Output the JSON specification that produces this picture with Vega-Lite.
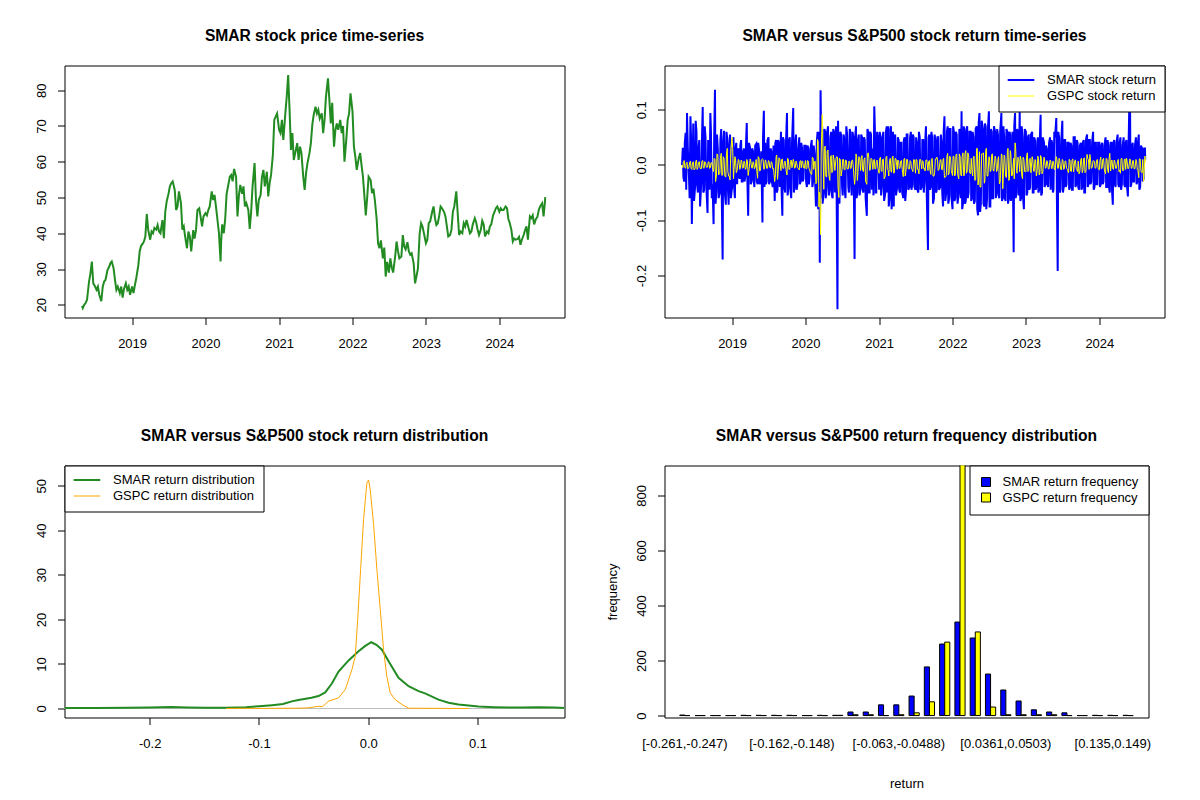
{
  "$schema": "https://vega.github.io/schema/vega-lite/v6.json",
  "background": "white",
  "padding": {"left": 34.5, "top": 27.5, "right": 5, "bottom": 5},
  "config": {
    "font": "Liberation Sans",
    "view": {"stroke": "black", "strokeWidth": 1},
    "axis": {
      "grid": false, "domain": false, "tickColor": "black", "tickSize": 7, "tickWidth": 1,
      "labelColor": "black", "labelFontSize": 13, "labelFont": "Liberation Sans", "labelFlush": false,
      "labelOverlap": false, "titleFont": "Liberation Sans", "titleFontWeight": "normal",
      "titleFontSize": 13, "titleColor": "black"
    },
    "axisX": {"labelPadding": 22.5, "labelBaseline": "alphabetic", "labelAngle": 0},
    "axisY": {"labelAngle": -90, "labelAlign": "center", "labelBaseline": "alphabetic", "labelPadding": 12},
    "title": {
      "font": "Liberation Sans", "fontSize": 15.6, "fontWeight": "bold", "color": "black",
      "anchor": "middle", "frame": "group", "baseline": "alphabetic", "offset": 20.5
    },
    "legend": {
      "labelFont": "Liberation Sans", "labelFontSize": 13, "labelColor": "black",
      "strokeColor": "black", "fillColor": "white"
    }
  },
  "datasets": {
    "ts": [
      {"d":"2018-04-27","p":19.7,"s":0,"g":0},
      {"d":"2018-05-01","p":19.1,"s":0.031,"g":-0.005},
      {"d":"2018-05-08","p":20.0,"s":-0.030,"g":0.008},
      {"d":"2018-05-15","p":20.5,"s":0.058,"g":-0.006},
      {"d":"2018-05-22","p":21.4,"s":0.094,"g":0.005},
      {"d":"2018-06-01","p":26.5,"s":-0.025,"g":-0.004},
      {"d":"2018-06-08","p":28.8,"s":0.088,"g":0.007},
      {"d":"2018-06-15","p":32.1,"s":-0.107,"g":-0.008},
      {"d":"2018-06-22","p":26.0,"s":0.075,"g":0.006},
      {"d":"2018-07-01","p":25.1,"s":-0.040,"g":-0.007},
      {"d":"2018-07-08","p":24.2,"s":0.060,"g":0.009},
      {"d":"2018-07-15","p":25.1,"s":-0.050,"g":-0.005},
      {"d":"2018-07-22","p":22.8,"s":0.045,"g":0.006},
      {"d":"2018-08-01","p":21.0,"s":-0.030,"g":-0.007},
      {"d":"2018-08-08","p":25.0,"s":0.105,"g":0.008},
      {"d":"2018-08-15","p":26.5,"s":-0.045,"g":-0.006},
      {"d":"2018-08-22","p":27.0,"s":0.050,"g":0.005},
      {"d":"2018-09-01","p":29.8,"s":-0.087,"g":-0.004},
      {"d":"2018-09-08","p":30.5,"s":0.040,"g":0.006},
      {"d":"2018-09-15","p":31.6,"s":0.094,"g":-0.005},
      {"d":"2018-09-22","p":32.1,"s":-0.060,"g":0.004},
      {"d":"2018-10-01","p":30.2,"s":-0.107,"g":-0.012},
      {"d":"2018-10-08","p":27.0,"s":0.136,"g":0.010},
      {"d":"2018-10-15","p":24.2,"s":-0.045,"g":-0.020},
      {"d":"2018-10-22","p":25.1,"s":0.030,"g":0.018},
      {"d":"2018-11-01","p":23.3,"s":-0.050,"g":-0.015},
      {"d":"2018-11-08","p":25.1,"s":0.065,"g":0.021},
      {"d":"2018-11-15","p":22.0,"s":-0.171,"g":-0.018},
      {"d":"2018-11-22","p":24.5,"s":0.062,"g":0.012},
      {"d":"2018-12-01","p":26.0,"s":-0.072,"g":-0.022},
      {"d":"2018-12-08","p":24.2,"s":0.048,"g":0.030},
      {"d":"2018-12-15","p":25.1,"s":-0.072,"g":-0.020},
      {"d":"2018-12-22","p":22.8,"s":0.055,"g":-0.027},
      {"d":"2019-01-01","p":25.1,"s":-0.040,"g":0.050},
      {"d":"2019-01-08","p":23.3,"s":0.050,"g":-0.025},
      {"d":"2019-01-15","p":25.5,"s":-0.060,"g":0.015},
      {"d":"2019-01-22","p":27.5,"s":0.040,"g":-0.014},
      {"d":"2019-02-01","p":31.0,"s":0.030,"g":0.010},
      {"d":"2019-02-08","p":35.0,"s":-0.025,"g":-0.008},
      {"d":"2019-02-15","p":36.5,"s":0.045,"g":0.009},
      {"d":"2019-02-22","p":37.0,"s":-0.030,"g":-0.006},
      {"d":"2019-03-01","p":37.7,"s":0.030,"g":0.007},
      {"d":"2019-03-08","p":39.1,"s":-0.020,"g":-0.008},
      {"d":"2019-03-15","p":45.4,"s":0.076,"g":0.010},
      {"d":"2019-03-22","p":41.0,"s":-0.092,"g":-0.019},
      {"d":"2019-04-01","p":38.2,"s":0.030,"g":0.011},
      {"d":"2019-04-08","p":40.5,"s":-0.030,"g":-0.005},
      {"d":"2019-04-15","p":40.0,"s":0.025,"g":0.006},
      {"d":"2019-04-22","p":41.5,"s":-0.040,"g":-0.007},
      {"d":"2019-05-01","p":41.0,"s":0.038,"g":0.010},
      {"d":"2019-05-08","p":42.3,"s":-0.035,"g":-0.024},
      {"d":"2019-05-15","p":40.5,"s":0.028,"g":0.012},
      {"d":"2019-05-22","p":40.0,"s":-0.030,"g":-0.010},
      {"d":"2019-06-01","p":43.7,"s":-0.104,"g":0.011},
      {"d":"2019-06-08","p":38.6,"s":0.098,"g":-0.008},
      {"d":"2019-06-15","p":46.0,"s":0.040,"g":0.009},
      {"d":"2019-06-22","p":48.9,"s":-0.030,"g":-0.006},
      {"d":"2019-07-01","p":51.0,"s":0.050,"g":0.008},
      {"d":"2019-07-08","p":53.1,"s":-0.030,"g":-0.005},
      {"d":"2019-07-15","p":54.0,"s":0.025,"g":0.006},
      {"d":"2019-07-22","p":54.5,"s":-0.040,"g":-0.007},
      {"d":"2019-08-01","p":52.1,"s":-0.065,"g":-0.030},
      {"d":"2019-08-08","p":46.5,"s":0.045,"g":0.015},
      {"d":"2019-08-15","p":47.5,"s":-0.045,"g":-0.026},
      {"d":"2019-08-22","p":51.7,"s":0.040,"g":0.013},
      {"d":"2019-09-01","p":48.4,"s":0.060,"g":-0.010},
      {"d":"2019-09-08","p":41.0,"s":-0.092,"g":0.011},
      {"d":"2019-09-15","p":41.9,"s":0.045,"g":-0.006},
      {"d":"2019-09-22","p":39.0,"s":-0.050,"g":0.007},
      {"d":"2019-10-01","p":35.8,"s":0.094,"g":-0.018},
      {"d":"2019-10-08","p":40.5,"s":-0.040,"g":0.010},
      {"d":"2019-10-15","p":39.1,"s":0.050,"g":-0.008},
      {"d":"2019-10-22","p":34.9,"s":-0.060,"g":0.009},
      {"d":"2019-11-01","p":40.9,"s":0.103,"g":0.010},
      {"d":"2019-11-08","p":38.5,"s":-0.040,"g":-0.006},
      {"d":"2019-11-15","p":41.0,"s":0.055,"g":0.007},
      {"d":"2019-11-22","p":46.5,"s":-0.035,"g":-0.005},
      {"d":"2019-12-01","p":47.0,"s":0.050,"g":-0.009},
      {"d":"2019-12-08","p":44.5,"s":-0.030,"g":0.008},
      {"d":"2019-12-15","p":41.9,"s":0.030,"g":0.007},
      {"d":"2019-12-22","p":44.7,"s":-0.025,"g":-0.005},
      {"d":"2020-01-01","p":45.6,"s":0.035,"g":0.008},
      {"d":"2020-01-08","p":45.0,"s":-0.040,"g":-0.006},
      {"d":"2020-01-15","p":46.5,"s":0.030,"g":0.007},
      {"d":"2020-01-22","p":47.5,"s":-0.020,"g":-0.009},
      {"d":"2020-02-01","p":51.7,"s":0.045,"g":-0.017},
      {"d":"2020-02-08","p":49.3,"s":-0.030,"g":0.012},
      {"d":"2020-02-15","p":50.7,"s":0.020,"g":0.006},
      {"d":"2020-02-22","p":47.5,"s":-0.075,"g":-0.034},
      {"d":"2020-03-01","p":43.5,"s":0.060,"g":0.046},
      {"d":"2020-03-08","p":40.0,"s":-0.050,"g":-0.076},
      {"d":"2020-03-12","p":36.0,"s":-0.177,"g":-0.050},
      {"d":"2020-03-16","p":32.1,"s":0.135,"g":-0.126},
      {"d":"2020-03-19","p":38.0,"s":-0.060,"g":0.020},
      {"d":"2020-03-24","p":42.5,"s":0.070,"g":0.091},
      {"d":"2020-04-01","p":40.0,"s":-0.050,"g":-0.044},
      {"d":"2020-04-08","p":44.0,"s":0.060,"g":0.034},
      {"d":"2020-04-15","p":51.0,"s":-0.040,"g":-0.022},
      {"d":"2020-04-22","p":53.1,"s":0.070,"g":0.027},
      {"d":"2020-05-01","p":55.8,"s":-0.045,"g":-0.028},
      {"d":"2020-05-08","p":56.3,"s":0.060,"g":0.017},
      {"d":"2020-05-15","p":54.5,"s":-0.060,"g":-0.012},
      {"d":"2020-05-22","p":58.0,"s":0.060,"g":0.010},
      {"d":"2020-06-01","p":55.8,"s":0.070,"g":0.012},
      {"d":"2020-06-08","p":44.7,"s":-0.261,"g":0.014},
      {"d":"2020-06-15","p":50.5,"s":-0.050,"g":-0.059},
      {"d":"2020-06-22","p":53.5,"s":0.060,"g":0.010},
      {"d":"2020-07-01","p":51.0,"s":-0.040,"g":-0.008},
      {"d":"2020-07-08","p":53.1,"s":0.055,"g":0.010},
      {"d":"2020-07-15","p":47.5,"s":-0.050,"g":-0.009},
      {"d":"2020-07-22","p":48.4,"s":0.070,"g":0.008},
      {"d":"2020-08-01","p":46.5,"s":-0.040,"g":-0.007},
      {"d":"2020-08-08","p":41.2,"s":0.065,"g":0.006},
      {"d":"2020-08-15","p":46.0,"s":-0.040,"g":-0.006},
      {"d":"2020-08-22","p":53.1,"s":0.060,"g":0.009},
      {"d":"2020-09-01","p":59.6,"s":-0.170,"g":-0.035},
      {"d":"2020-09-08","p":49.3,"s":0.070,"g":0.020},
      {"d":"2020-09-15","p":44.7,"s":-0.050,"g":-0.028},
      {"d":"2020-09-22","p":49.3,"s":0.055,"g":0.015},
      {"d":"2020-10-01","p":50.7,"s":-0.040,"g":-0.010},
      {"d":"2020-10-08","p":55.8,"s":0.050,"g":0.017},
      {"d":"2020-10-15","p":57.7,"s":-0.050,"g":-0.012},
      {"d":"2020-10-22","p":53.1,"s":0.045,"g":0.013},
      {"d":"2020-11-01","p":57.2,"s":-0.092,"g":-0.035},
      {"d":"2020-11-08","p":50.3,"s":0.060,"g":0.022},
      {"d":"2020-11-15","p":54.0,"s":-0.050,"g":-0.010},
      {"d":"2020-11-22","p":56.3,"s":0.055,"g":0.012},
      {"d":"2020-12-01","p":61.9,"s":0.030,"g":-0.008},
      {"d":"2020-12-08","p":71.7,"s":0.106,"g":0.010},
      {"d":"2020-12-15","p":72.6,"s":-0.050,"g":-0.007},
      {"d":"2020-12-22","p":73.5,"s":0.060,"g":0.009},
      {"d":"2021-01-01","p":68.9,"s":-0.045,"g":-0.015},
      {"d":"2021-01-08","p":68.0,"s":0.050,"g":0.014},
      {"d":"2021-01-15","p":71.7,"s":-0.040,"g":-0.012},
      {"d":"2021-01-22","p":66.1,"s":0.060,"g":0.011},
      {"d":"2021-02-01","p":73.5,"s":-0.050,"g":-0.020},
      {"d":"2021-02-08","p":78.2,"s":0.070,"g":0.016},
      {"d":"2021-02-15","p":84.2,"s":0.070,"g":-0.010},
      {"d":"2021-02-22","p":74.5,"s":-0.060,"g":0.008},
      {"d":"2021-03-01","p":63.3,"s":0.070,"g":-0.012},
      {"d":"2021-03-08","p":68.0,"s":-0.050,"g":0.014},
      {"d":"2021-03-15","p":60.5,"s":-0.075,"g":-0.015},
      {"d":"2021-03-22","p":62.4,"s":0.055,"g":0.012},
      {"d":"2021-04-01","p":65.2,"s":-0.040,"g":-0.008},
      {"d":"2021-04-08","p":60.5,"s":0.045,"g":0.007},
      {"d":"2021-04-15","p":64.2,"s":-0.050,"g":-0.006},
      {"d":"2021-04-22","p":62.4,"s":0.040,"g":0.008},
      {"d":"2021-05-01","p":55.8,"s":-0.060,"g":-0.021},
      {"d":"2021-05-08","p":52.1,"s":0.050,"g":0.012},
      {"d":"2021-05-15","p":56.8,"s":-0.045,"g":-0.009},
      {"d":"2021-05-22","p":59.6,"s":0.055,"g":0.010},
      {"d":"2021-06-01","p":62.4,"s":-0.040,"g":-0.007},
      {"d":"2021-06-08","p":65.2,"s":0.060,"g":0.006},
      {"d":"2021-06-15","p":70.3,"s":-0.035,"g":-0.008},
      {"d":"2021-06-22","p":73.1,"s":0.050,"g":0.010},
      {"d":"2021-07-01","p":75.4,"s":-0.045,"g":-0.015},
      {"d":"2021-07-08","p":73.5,"s":0.040,"g":0.009},
      {"d":"2021-07-15","p":74.5,"s":-0.050,"g":-0.008},
      {"d":"2021-07-22","p":72.1,"s":0.050,"g":0.010},
      {"d":"2021-08-01","p":73.5,"s":-0.040,"g":-0.007},
      {"d":"2021-08-08","p":68.0,"s":0.045,"g":0.006},
      {"d":"2021-08-15","p":71.7,"s":-0.030,"g":-0.006},
      {"d":"2021-08-22","p":78.2,"s":0.070,"g":0.009},
      {"d":"2021-09-01","p":83.3,"s":-0.154,"g":-0.010},
      {"d":"2021-09-08","p":77.3,"s":0.055,"g":0.008},
      {"d":"2021-09-15","p":70.7,"s":-0.040,"g":-0.017},
      {"d":"2021-09-22","p":76.5,"s":0.050,"g":0.012},
      {"d":"2021-10-01","p":64.2,"s":-0.060,"g":-0.020},
      {"d":"2021-10-08","p":68.9,"s":0.045,"g":0.011},
      {"d":"2021-10-15","p":70.7,"s":-0.045,"g":0.014},
      {"d":"2021-10-22","p":68.9,"s":0.050,"g":-0.010},
      {"d":"2021-11-01","p":71.7,"s":-0.040,"g":0.009},
      {"d":"2021-11-08","p":68.0,"s":0.040,"g":-0.008},
      {"d":"2021-11-15","p":70.0,"s":-0.075,"g":0.010},
      {"d":"2021-11-22","p":60.0,"s":0.088,"g":-0.023},
      {"d":"2021-12-01","p":66.1,"s":-0.050,"g":-0.019},
      {"d":"2021-12-08","p":71.7,"s":0.070,"g":0.021},
      {"d":"2021-12-15","p":73.5,"s":-0.060,"g":-0.015},
      {"d":"2021-12-22","p":79.1,"s":0.065,"g":0.014},
      {"d":"2022-01-01","p":74.0,"s":-0.080,"g":-0.019},
      {"d":"2022-01-08","p":64.2,"s":0.060,"g":0.015},
      {"d":"2022-01-15","p":61.4,"s":-0.060,"g":-0.018},
      {"d":"2022-01-22","p":57.7,"s":0.055,"g":0.020},
      {"d":"2022-02-01","p":61.0,"s":-0.050,"g":-0.025},
      {"d":"2022-02-08","p":62.4,"s":0.060,"g":0.015},
      {"d":"2022-02-15","p":59.0,"s":0.097,"g":-0.020},
      {"d":"2022-02-22","p":55.8,"s":-0.070,"g":0.022},
      {"d":"2022-03-01","p":50.5,"s":0.060,"g":-0.017},
      {"d":"2022-03-08","p":45.0,"s":-0.065,"g":0.026},
      {"d":"2022-03-15","p":50.0,"s":0.070,"g":-0.012},
      {"d":"2022-03-22","p":55.8,"s":-0.050,"g":0.018},
      {"d":"2022-04-01","p":54.9,"s":0.060,"g":-0.016},
      {"d":"2022-04-08","p":51.2,"s":-0.060,"g":-0.011},
      {"d":"2022-04-15","p":52.5,"s":0.050,"g":0.015},
      {"d":"2022-04-22","p":49.3,"s":-0.065,"g":-0.028},
      {"d":"2022-05-01","p":44.0,"s":0.070,"g":0.030},
      {"d":"2022-05-08","p":37.2,"s":-0.091,"g":-0.036},
      {"d":"2022-05-15","p":35.8,"s":0.094,"g":0.024},
      {"d":"2022-05-22","p":38.0,"s":-0.070,"g":-0.040},
      {"d":"2022-06-01","p":33.0,"s":0.065,"g":0.020},
      {"d":"2022-06-08","p":36.0,"s":-0.075,"g":-0.033},
      {"d":"2022-06-15","p":27.9,"s":0.070,"g":0.025},
      {"d":"2022-06-22","p":32.0,"s":-0.060,"g":-0.020},
      {"d":"2022-07-01","p":29.0,"s":0.097,"g":0.015},
      {"d":"2022-07-08","p":33.0,"s":-0.075,"g":-0.012},
      {"d":"2022-07-15","p":30.5,"s":0.060,"g":0.019},
      {"d":"2022-07-22","p":29.0,"s":-0.060,"g":-0.010},
      {"d":"2022-08-01","p":33.5,"s":0.060,"g":0.016},
      {"d":"2022-08-08","p":37.7,"s":-0.050,"g":-0.012},
      {"d":"2022-08-15","p":35.0,"s":0.055,"g":0.010},
      {"d":"2022-08-22","p":33.0,"s":-0.060,"g":-0.034},
      {"d":"2022-09-01","p":33.5,"s":0.094,"g":0.020},
      {"d":"2022-09-08","p":39.5,"s":-0.060,"g":-0.043},
      {"d":"2022-09-15","p":36.3,"s":0.050,"g":0.018},
      {"d":"2022-09-22","p":35.5,"s":-0.065,"g":-0.021},
      {"d":"2022-10-01","p":37.5,"s":0.060,"g":0.026},
      {"d":"2022-10-08","p":35.0,"s":-0.060,"g":-0.028},
      {"d":"2022-10-15","p":34.0,"s":0.055,"g":0.026},
      {"d":"2022-10-22","p":34.4,"s":-0.050,"g":-0.020},
      {"d":"2022-11-01","p":31.6,"s":-0.158,"g":0.012},
      {"d":"2022-11-08","p":26.0,"s":0.094,"g":0.040},
      {"d":"2022-11-15","p":28.0,"s":-0.050,"g":-0.010},
      {"d":"2022-11-22","p":30.0,"s":0.060,"g":0.014},
      {"d":"2022-12-01","p":40.0,"s":0.100,"g":-0.012},
      {"d":"2022-12-08","p":42.8,"s":-0.060,"g":0.010},
      {"d":"2022-12-15","p":41.9,"s":0.050,"g":-0.025},
      {"d":"2022-12-22","p":40.0,"s":-0.080,"g":0.010},
      {"d":"2023-01-01","p":37.2,"s":0.060,"g":-0.012},
      {"d":"2023-01-08","p":38.2,"s":-0.050,"g":0.022},
      {"d":"2023-01-15","p":42.8,"s":0.055,"g":-0.010},
      {"d":"2023-01-22","p":43.3,"s":-0.040,"g":0.012},
      {"d":"2023-02-01","p":46.0,"s":0.060,"g":0.015},
      {"d":"2023-02-08","p":47.5,"s":-0.050,"g":-0.011},
      {"d":"2023-02-15","p":44.2,"s":0.045,"g":0.010},
      {"d":"2023-02-22","p":42.3,"s":-0.040,"g":-0.020},
      {"d":"2023-03-01","p":42.8,"s":0.050,"g":0.016},
      {"d":"2023-03-08","p":44.9,"s":-0.045,"g":-0.018},
      {"d":"2023-03-15","p":47.5,"s":0.091,"g":0.017},
      {"d":"2023-03-22","p":47.0,"s":-0.050,"g":-0.016},
      {"d":"2023-04-01","p":46.0,"s":0.040,"g":0.014},
      {"d":"2023-04-08","p":44.7,"s":-0.035,"g":-0.006},
      {"d":"2023-04-15","p":42.0,"s":0.030,"g":0.008},
      {"d":"2023-04-22","p":39.1,"s":-0.040,"g":-0.007},
      {"d":"2023-05-01","p":39.5,"s":0.050,"g":0.009},
      {"d":"2023-05-08","p":41.0,"s":0.045,"g":-0.006},
      {"d":"2023-05-15","p":46.0,"s":-0.050,"g":0.007},
      {"d":"2023-05-22","p":47.5,"s":0.060,"g":-0.008},
      {"d":"2023-06-01","p":51.7,"s":0.085,"g":0.015},
      {"d":"2023-06-08","p":45.6,"s":-0.192,"g":-0.006},
      {"d":"2023-06-15","p":39.5,"s":0.050,"g":0.012},
      {"d":"2023-06-22","p":40.5,"s":-0.045,"g":-0.007},
      {"d":"2023-07-01","p":40.0,"s":0.080,"g":0.010},
      {"d":"2023-07-08","p":42.8,"s":-0.040,"g":-0.008},
      {"d":"2023-07-15","p":41.9,"s":0.045,"g":0.007},
      {"d":"2023-07-22","p":43.7,"s":-0.035,"g":-0.006},
      {"d":"2023-08-01","p":41.5,"s":0.040,"g":-0.014},
      {"d":"2023-08-08","p":40.0,"s":-0.040,"g":0.009},
      {"d":"2023-08-15","p":40.5,"s":0.035,"g":-0.012},
      {"d":"2023-08-22","p":42.5,"s":-0.045,"g":0.011},
      {"d":"2023-09-01","p":44.2,"s":0.050,"g":0.008},
      {"d":"2023-09-08","p":43.0,"s":-0.035,"g":-0.007},
      {"d":"2023-09-15","p":41.0,"s":0.040,"g":-0.012},
      {"d":"2023-09-22","p":39.5,"s":-0.045,"g":-0.016},
      {"d":"2023-10-01","p":41.0,"s":0.040,"g":0.010},
      {"d":"2023-10-08","p":43.5,"s":-0.040,"g":-0.014},
      {"d":"2023-10-15","p":42.5,"s":0.045,"g":0.011},
      {"d":"2023-10-22","p":39.1,"s":-0.050,"g":-0.014},
      {"d":"2023-11-01","p":40.5,"s":0.055,"g":0.019},
      {"d":"2023-11-08","p":40.0,"s":-0.035,"g":0.010},
      {"d":"2023-11-15","p":41.9,"s":0.045,"g":0.019},
      {"d":"2023-11-22","p":42.5,"s":-0.030,"g":-0.006},
      {"d":"2023-12-01","p":45.0,"s":0.060,"g":0.008},
      {"d":"2023-12-08","p":46.0,"s":-0.040,"g":0.006},
      {"d":"2023-12-15","p":47.0,"s":0.040,"g":-0.005},
      {"d":"2023-12-22","p":47.5,"s":-0.035,"g":0.010},
      {"d":"2024-01-01","p":46.0,"s":0.040,"g":-0.009},
      {"d":"2024-01-08","p":47.0,"s":-0.035,"g":0.014},
      {"d":"2024-01-15","p":46.5,"s":0.040,"g":-0.006},
      {"d":"2024-01-22","p":46.5,"s":-0.030,"g":0.012},
      {"d":"2024-02-01","p":47.5,"s":0.050,"g":-0.016},
      {"d":"2024-02-08","p":47.0,"s":-0.040,"g":0.010},
      {"d":"2024-02-15","p":44.0,"s":0.035,"g":-0.014},
      {"d":"2024-02-22","p":42.8,"s":-0.050,"g":0.021},
      {"d":"2024-03-01","p":40.9,"s":0.040,"g":0.008},
      {"d":"2024-03-08","p":37.7,"s":-0.072,"g":-0.007},
      {"d":"2024-03-15","p":38.5,"s":0.045,"g":0.009},
      {"d":"2024-03-22","p":38.2,"s":-0.040,"g":-0.006},
      {"d":"2024-04-01","p":38.4,"s":0.055,"g":0.007},
      {"d":"2024-04-08","p":39.0,"s":-0.040,"g":-0.012},
      {"d":"2024-04-15","p":36.8,"s":0.050,"g":-0.015},
      {"d":"2024-04-22","p":38.2,"s":-0.035,"g":0.012},
      {"d":"2024-05-01","p":39.5,"s":0.050,"g":-0.010},
      {"d":"2024-05-08","p":40.9,"s":-0.040,"g":0.011},
      {"d":"2024-05-15","p":41.9,"s":0.045,"g":0.012},
      {"d":"2024-05-22","p":38.2,"s":-0.057,"g":-0.007},
      {"d":"2024-06-01","p":44.7,"s":0.163,"g":0.011},
      {"d":"2024-06-08","p":44.2,"s":-0.035,"g":-0.006},
      {"d":"2024-06-15","p":45.0,"s":0.040,"g":0.008},
      {"d":"2024-06-22","p":42.5,"s":-0.030,"g":-0.007},
      {"d":"2024-07-01","p":44.0,"s":0.050,"g":0.010},
      {"d":"2024-07-08","p":44.5,"s":-0.030,"g":-0.009},
      {"d":"2024-07-15","p":46.5,"s":0.055,"g":-0.023},
      {"d":"2024-07-22","p":47.5,"s":-0.040,"g":0.011},
      {"d":"2024-08-01","p":48.4,"s":0.030,"g":-0.014},
      {"d":"2024-08-08","p":44.7,"s":-0.025,"g":-0.030},
      {"d":"2024-08-15","p":48.9,"s":0.030,"g":0.016},
      {"d":"2024-08-16","p":50.1,"s":0.010,"g":0.005},
      {"d":"2018-05-04","s":-0.022,"g":0.006},{"d":"2018-05-11","s":0.040,"g":-0.004},{"d":"2018-05-18","s":-0.045,"g":0.003},{"d":"2018-05-26","s":0.030,"g":-0.007},
      {"d":"2018-06-04","s":-0.060,"g":0.005},{"d":"2018-06-11","s":0.050,"g":-0.006},{"d":"2018-06-18","s":-0.030,"g":0.004},{"d":"2018-06-26","s":-0.065,"g":-0.009},
      {"d":"2018-07-04","s":0.080,"g":0.006},{"d":"2018-07-11","s":-0.035,"g":-0.008},{"d":"2018-07-18","s":0.030,"g":0.005},{"d":"2018-07-26","s":-0.075,"g":-0.006},
      {"d":"2018-08-04","s":0.040,"g":0.007},{"d":"2018-08-11","s":-0.050,"g":-0.005},{"d":"2018-08-18","s":0.070,"g":0.006},{"d":"2018-08-26","s":-0.040,"g":-0.004},
      {"d":"2018-09-04","s":0.045,"g":0.005},{"d":"2018-09-11","s":-0.045,"g":-0.006},{"d":"2018-09-18","s":0.060,"g":0.004},{"d":"2018-09-26","s":-0.035,"g":-0.005},
      {"d":"2018-10-04","s":0.050,"g":0.012},{"d":"2018-10-11","s":-0.070,"g":-0.030},{"d":"2018-10-18","s":0.055,"g":0.020},{"d":"2018-10-26","s":-0.060,"g":-0.018},
      {"d":"2018-11-04","s":0.045,"g":0.012},{"d":"2018-11-11","s":-0.065,"g":-0.019},{"d":"2018-11-18","s":0.040,"g":0.015},{"d":"2018-11-26","s":-0.050,"g":-0.020},
      {"d":"2018-12-04","s":0.060,"g":0.020},{"d":"2018-12-11","s":-0.040,"g":-0.012},{"d":"2018-12-18","s":0.035,"g":-0.020},{"d":"2018-12-26","s":-0.060,"g":0.030},
      {"d":"2019-01-04","s":0.045,"g":0.030},{"d":"2019-01-11","s":-0.040,"g":-0.008},{"d":"2019-01-18","s":0.030,"g":0.012},{"d":"2019-01-26","s":-0.035,"g":-0.010},
      {"d":"2019-02-04","s":-0.020,"g":0.008},{"d":"2019-02-11","s":0.035,"g":-0.006},{"d":"2019-02-18","s":-0.030,"g":0.007},{"d":"2019-02-26","s":0.025,"g":-0.005},
      {"d":"2019-03-04","s":-0.030,"g":0.006},{"d":"2019-03-11","s":0.035,"g":-0.007},{"d":"2019-03-18","s":-0.025,"g":0.008},{"d":"2019-03-26","s":0.040,"g":-0.009},
      {"d":"2019-04-04","s":-0.035,"g":0.007},{"d":"2019-04-11","s":0.030,"g":-0.006},{"d":"2019-04-18","s":-0.025,"g":0.005},{"d":"2019-04-26","s":0.035,"g":-0.004},
      {"d":"2019-05-04","s":-0.030,"g":-0.012},{"d":"2019-05-11","s":0.040,"g":0.015},{"d":"2019-05-18","s":-0.035,"g":-0.011},{"d":"2019-05-26","s":0.025,"g":0.009},
      {"d":"2019-06-04","s":0.050,"g":0.010},{"d":"2019-06-11","s":-0.040,"g":-0.007},{"d":"2019-06-18","s":-0.035,"g":0.008},{"d":"2019-06-26","s":0.045,"g":-0.006},
      {"d":"2019-07-04","s":-0.035,"g":0.006},{"d":"2019-07-11","s":0.030,"g":-0.005},{"d":"2019-07-18","s":-0.030,"g":0.004},{"d":"2019-07-26","s":0.035,"g":-0.006},
      {"d":"2019-08-04","s":0.040,"g":-0.020},{"d":"2019-08-11","s":-0.050,"g":0.018},{"d":"2019-08-18","s":0.045,"g":-0.012},{"d":"2019-08-26","s":-0.040,"g":0.011},
      {"d":"2019-09-04","s":-0.045,"g":0.009},{"d":"2019-09-11","s":0.050,"g":-0.006},{"d":"2019-09-18","s":-0.040,"g":0.005},{"d":"2019-09-26","s":0.040,"g":-0.008},
      {"d":"2019-10-04","s":-0.055,"g":0.012},{"d":"2019-10-11","s":0.045,"g":-0.008},{"d":"2019-10-18","s":-0.045,"g":0.006},{"d":"2019-10-26","s":0.040,"g":-0.005},
      {"d":"2019-11-04","s":-0.050,"g":0.006},{"d":"2019-11-11","s":0.040,"g":-0.005},{"d":"2019-11-18","s":-0.045,"g":0.004},{"d":"2019-11-26","s":0.030,"g":-0.006},
      {"d":"2019-12-04","s":-0.035,"g":0.006},{"d":"2019-12-11","s":0.040,"g":-0.005},{"d":"2019-12-18","s":-0.030,"g":0.007},{"d":"2019-12-26","s":0.035,"g":-0.006},
      {"d":"2020-01-04","s":-0.030,"g":-0.007},{"d":"2020-01-11","s":0.035,"g":0.008},{"d":"2020-01-18","s":-0.035,"g":-0.006},{"d":"2020-01-26","s":0.030,"g":-0.015},
      {"d":"2020-02-04","s":-0.040,"g":0.014},{"d":"2020-02-11","s":0.035,"g":-0.008},{"d":"2020-02-18","s":-0.030,"g":0.007},{"d":"2020-02-26","s":0.040,"g":-0.030},
      {"d":"2020-03-04","s":-0.080,"g":0.042},{"d":"2020-03-10","s":0.060,"g":-0.049},{"d":"2020-03-18","s":0.080,"g":-0.052},{"d":"2020-03-26","s":-0.070,"g":0.062},
      {"d":"2020-04-04","s":0.065,"g":0.030},{"d":"2020-04-11","s":-0.060,"g":-0.020},{"d":"2020-04-18","s":0.060,"g":0.025},{"d":"2020-04-26","s":-0.055,"g":-0.018},
      {"d":"2020-05-04","s":0.050,"g":0.015},{"d":"2020-05-11","s":-0.055,"g":-0.014},{"d":"2020-05-18","s":0.065,"g":0.018},{"d":"2020-05-26","s":-0.050,"g":-0.010},
      {"d":"2020-06-04","s":-0.060,"g":0.015},{"d":"2020-06-11","s":0.080,"g":-0.040},{"d":"2020-06-18","s":-0.070,"g":0.012},{"d":"2020-06-26","s":0.055,"g":-0.020},
      {"d":"2020-07-04","s":-0.055,"g":0.010},{"d":"2020-07-11","s":0.050,"g":-0.008},{"d":"2020-07-18","s":-0.060,"g":0.009},{"d":"2020-07-26","s":0.055,"g":-0.007},
      {"d":"2020-08-04","s":-0.050,"g":0.007},{"d":"2020-08-11","s":0.060,"g":-0.006},{"d":"2020-08-18","s":-0.055,"g":0.008},{"d":"2020-08-26","s":0.050,"g":-0.005},
      {"d":"2020-09-04","s":0.050,"g":-0.025},{"d":"2020-09-11","s":-0.060,"g":0.016},{"d":"2020-09-18","s":0.045,"g":-0.012},{"d":"2020-09-26","s":-0.055,"g":0.014},
      {"d":"2020-10-04","s":0.055,"g":0.012},{"d":"2020-10-11","s":-0.045,"g":-0.009},{"d":"2020-10-18","s":0.050,"g":0.010},{"d":"2020-10-26","s":-0.060,"g":-0.030},
      {"d":"2020-11-04","s":0.065,"g":0.020},{"d":"2020-11-11","s":-0.050,"g":0.012},{"d":"2020-11-18","s":0.060,"g":-0.009},{"d":"2020-11-26","s":-0.045,"g":0.010},
      {"d":"2020-12-04","s":-0.055,"g":0.008},{"d":"2020-12-11","s":0.065,"g":-0.007},{"d":"2020-12-18","s":-0.050,"g":0.006},{"d":"2020-12-26","s":0.050,"g":-0.006},
      {"d":"2021-01-04","s":0.060,"g":0.012},{"d":"2021-01-11","s":-0.055,"g":-0.010},{"d":"2021-01-18","s":0.050,"g":0.009},{"d":"2021-01-26","s":-0.065,"g":-0.025},
      {"d":"2021-02-04","s":0.060,"g":0.014},{"d":"2021-02-11","s":-0.050,"g":-0.008},{"d":"2021-02-18","s":-0.075,"g":-0.020},{"d":"2021-02-26","s":0.065,"g":0.012},
      {"d":"2021-03-04","s":-0.080,"g":-0.013},{"d":"2021-03-11","s":0.060,"g":0.016},{"d":"2021-03-18","s":0.050,"g":-0.014},{"d":"2021-03-26","s":-0.055,"g":0.011},
      {"d":"2021-04-04","s":0.050,"g":0.009},{"d":"2021-04-11","s":-0.045,"g":-0.006},{"d":"2021-04-18","s":0.040,"g":0.007},{"d":"2021-04-26","s":-0.050,"g":-0.008},
      {"d":"2021-05-04","s":0.045,"g":0.010},{"d":"2021-05-11","s":-0.065,"g":-0.020},{"d":"2021-05-18","s":0.055,"g":0.010},{"d":"2021-05-26","s":-0.045,"g":-0.007},
      {"d":"2021-06-04","s":0.050,"g":0.008},{"d":"2021-06-11","s":-0.045,"g":-0.007},{"d":"2021-06-18","s":0.055,"g":-0.012},{"d":"2021-06-26","s":-0.040,"g":0.009},
      {"d":"2021-07-04","s":0.050,"g":0.010},{"d":"2021-07-11","s":-0.045,"g":-0.008},{"d":"2021-07-18","s":0.060,"g":-0.016},{"d":"2021-07-26","s":-0.045,"g":0.010},
      {"d":"2021-08-04","s":0.045,"g":0.008},{"d":"2021-08-11","s":-0.050,"g":-0.007},{"d":"2021-08-18","s":0.040,"g":-0.011},{"d":"2021-08-26","s":-0.055,"g":0.009},
      {"d":"2021-09-04","s":0.050,"g":0.006},{"d":"2021-09-11","s":-0.045,"g":-0.009},{"d":"2021-09-18","s":0.060,"g":0.010},{"d":"2021-09-26","s":-0.070,"g":-0.020},
      {"d":"2021-10-04","s":0.055,"g":-0.013},{"d":"2021-10-11","s":-0.050,"g":0.010},{"d":"2021-10-18","s":0.050,"g":0.012},{"d":"2021-10-26","s":-0.045,"g":-0.008},
      {"d":"2021-11-04","s":0.055,"g":0.010},{"d":"2021-11-11","s":-0.050,"g":-0.009},{"d":"2021-11-18","s":0.060,"g":0.012},{"d":"2021-11-26","s":-0.065,"g":-0.022},
      {"d":"2021-12-04","s":0.060,"g":0.015},{"d":"2021-12-11","s":-0.070,"g":-0.018},{"d":"2021-12-18","s":0.065,"g":0.016},{"d":"2021-12-26","s":-0.055,"g":-0.010},
      {"d":"2022-01-04","s":0.070,"g":0.016},{"d":"2022-01-11","s":-0.065,"g":-0.020},{"d":"2022-01-18","s":0.060,"g":0.018},{"d":"2022-01-26","s":-0.070,"g":-0.015},
      {"d":"2022-02-04","s":0.065,"g":0.020},{"d":"2022-02-11","s":-0.060,"g":-0.018},{"d":"2022-02-18","s":-0.080,"g":0.015},{"d":"2022-02-26","s":0.070,"g":-0.020},
      {"d":"2022-03-04","s":-0.070,"g":0.020},{"d":"2022-03-11","s":0.065,"g":-0.015},{"d":"2022-03-18","s":-0.060,"g":0.022},{"d":"2022-03-26","s":0.060,"g":-0.013},
      {"d":"2022-04-04","s":-0.065,"g":0.012},{"d":"2022-04-11","s":0.060,"g":-0.020},{"d":"2022-04-18","s":-0.070,"g":0.016},{"d":"2022-04-26","s":0.065,"g":-0.027},
      {"d":"2022-05-04","s":-0.080,"g":0.030},{"d":"2022-05-11","s":0.075,"g":-0.025},{"d":"2022-05-18","s":-0.085,"g":-0.040},{"d":"2022-05-26","s":0.080,"g":0.020},
      {"d":"2022-06-04","s":-0.070,"g":0.022},{"d":"2022-06-11","s":0.075,"g":-0.029},{"d":"2022-06-18","s":-0.080,"g":0.030},{"d":"2022-06-26","s":0.065,"g":-0.020},
      {"d":"2022-07-04","s":-0.075,"g":0.014},{"d":"2022-07-11","s":0.065,"g":-0.010},{"d":"2022-07-18","s":-0.060,"g":0.020},{"d":"2022-07-26","s":0.070,"g":-0.011},
      {"d":"2022-08-04","s":-0.060,"g":0.012},{"d":"2022-08-11","s":0.065,"g":-0.010},{"d":"2022-08-18","s":-0.055,"g":0.015},{"d":"2022-08-26","s":0.060,"g":-0.030},
      {"d":"2022-09-04","s":-0.065,"g":0.018},{"d":"2022-09-11","s":0.070,"g":-0.015},{"d":"2022-09-18","s":-0.060,"g":0.014},{"d":"2022-09-26","s":0.065,"g":-0.023},
      {"d":"2022-10-04","s":-0.070,"g":0.030},{"d":"2022-10-11","s":0.060,"g":-0.025},{"d":"2022-10-18","s":-0.065,"g":0.020},{"d":"2022-10-26","s":0.060,"g":-0.018},
      {"d":"2022-11-04","s":0.070,"g":-0.025},{"d":"2022-11-11","s":-0.060,"g":0.030},{"d":"2022-11-18","s":0.065,"g":-0.015},{"d":"2022-11-26","s":-0.055,"g":0.012},
      {"d":"2022-12-04","s":-0.065,"g":0.016},{"d":"2022-12-11","s":0.070,"g":-0.018},{"d":"2022-12-18","s":-0.060,"g":0.014},{"d":"2022-12-26","s":0.065,"g":-0.012},
      {"d":"2023-01-04","s":-0.055,"g":0.014},{"d":"2023-01-11","s":0.050,"g":-0.012},{"d":"2023-01-18","s":-0.045,"g":0.010},{"d":"2023-01-26","s":0.055,"g":-0.014},
      {"d":"2023-02-04","s":-0.050,"g":0.010},{"d":"2023-02-11","s":0.050,"g":-0.012},{"d":"2023-02-18","s":-0.045,"g":0.009},{"d":"2023-02-26","s":0.040,"g":-0.010},
      {"d":"2023-03-04","s":-0.050,"g":0.012},{"d":"2023-03-11","s":0.045,"g":-0.015},{"d":"2023-03-18","s":-0.055,"g":0.014},{"d":"2023-03-26","s":0.050,"g":-0.012},
      {"d":"2023-04-04","s":-0.040,"g":0.007},{"d":"2023-04-11","s":0.035,"g":-0.005},{"d":"2023-04-18","s":-0.035,"g":0.006},{"d":"2023-04-26","s":0.040,"g":-0.007},
      {"d":"2023-05-04","s":-0.045,"g":0.008},{"d":"2023-05-11","s":0.040,"g":-0.007},{"d":"2023-05-18","s":-0.045,"g":0.006},{"d":"2023-05-26","s":0.050,"g":-0.008},
      {"d":"2023-06-04","s":-0.060,"g":0.010},{"d":"2023-06-11","s":0.060,"g":-0.006},{"d":"2023-06-18","s":-0.050,"g":0.008},{"d":"2023-06-26","s":0.045,"g":-0.009},
      {"d":"2023-07-04","s":-0.050,"g":0.008},{"d":"2023-07-11","s":0.045,"g":-0.006},{"d":"2023-07-18","s":-0.040,"g":0.007},{"d":"2023-07-26","s":0.040,"g":-0.008},
      {"d":"2023-08-04","s":-0.045,"g":0.010},{"d":"2023-08-11","s":0.040,"g":-0.011},{"d":"2023-08-18","s":-0.045,"g":0.008},{"d":"2023-08-26","s":0.050,"g":-0.012},
      {"d":"2023-09-04","s":-0.040,"g":0.009},{"d":"2023-09-11","s":0.045,"g":-0.008},{"d":"2023-09-18","s":-0.040,"g":0.007},{"d":"2023-09-26","s":0.035,"g":-0.012},
      {"d":"2023-10-04","s":-0.045,"g":0.012},{"d":"2023-10-11","s":0.040,"g":-0.011},{"d":"2023-10-18","s":-0.050,"g":0.013},{"d":"2023-10-26","s":0.045,"g":-0.012},
      {"d":"2023-11-04","s":-0.040,"g":0.012},{"d":"2023-11-11","s":0.045,"g":-0.008},{"d":"2023-11-18","s":-0.035,"g":0.009},{"d":"2023-11-26","s":0.040,"g":-0.005},
      {"d":"2023-12-04","s":-0.045,"g":0.007},{"d":"2023-12-11","s":0.040,"g":-0.006},{"d":"2023-12-18","s":-0.035,"g":0.008},{"d":"2023-12-26","s":0.040,"g":-0.007},
      {"d":"2024-01-04","s":-0.040,"g":0.008},{"d":"2024-01-11","s":0.035,"g":-0.007},{"d":"2024-01-18","s":-0.035,"g":0.010},{"d":"2024-01-26","s":0.035,"g":-0.009},
      {"d":"2024-02-04","s":-0.040,"g":0.012},{"d":"2024-02-11","s":0.045,"g":-0.008},{"d":"2024-02-18","s":-0.040,"g":0.010},{"d":"2024-02-26","s":0.040,"g":-0.011},
      {"d":"2024-03-04","s":-0.045,"g":0.009},{"d":"2024-03-11","s":0.040,"g":-0.008},{"d":"2024-03-18","s":-0.035,"g":0.007},{"d":"2024-03-26","s":0.040,"g":-0.006},
      {"d":"2024-04-04","s":-0.035,"g":0.010},{"d":"2024-04-11","s":0.040,"g":-0.009},{"d":"2024-04-18","s":-0.045,"g":0.011},{"d":"2024-04-26","s":0.035,"g":-0.010},
      {"d":"2024-05-04","s":-0.035,"g":0.009},{"d":"2024-05-11","s":0.040,"g":-0.008},{"d":"2024-05-18","s":-0.040,"g":0.007},{"d":"2024-05-26","s":0.050,"g":-0.006},
      {"d":"2024-06-04","s":-0.040,"g":0.007},{"d":"2024-06-11","s":0.035,"g":-0.006},{"d":"2024-06-18","s":-0.030,"g":0.008},{"d":"2024-06-26","s":0.035,"g":-0.007},
      {"d":"2024-07-04","s":-0.035,"g":0.008},{"d":"2024-07-11","s":0.040,"g":-0.010},{"d":"2024-07-18","s":-0.045,"g":0.011},{"d":"2024-07-26","s":0.035,"g":-0.012},
      {"d":"2024-08-04","s":-0.030,"g":0.010},{"d":"2024-08-11","s":0.030,"g":-0.012}
    ],
    "dens": [
      {"k":"s","x":-0.278,"y":0.1},{"k":"s","x":-0.25,"y":0.12},{"k":"s","x":-0.22,"y":0.15},
      {"k":"s","x":-0.2,"y":0.2},{"k":"s","x":-0.18,"y":0.32},{"k":"s","x":-0.165,"y":0.25},
      {"k":"s","x":-0.15,"y":0.18},{"k":"s","x":-0.13,"y":0.15},{"k":"s","x":-0.112,"y":0.3},
      {"k":"s","x":-0.1,"y":0.5},{"k":"s","x":-0.088,"y":0.75},{"k":"s","x":-0.078,"y":1.0},
      {"k":"s","x":-0.07,"y":1.6},{"k":"s","x":-0.064,"y":1.9},{"k":"s","x":-0.052,"y":2.4},
      {"k":"s","x":-0.0455,"y":2.8},{"k":"s","x":-0.0394,"y":3.6},{"k":"s","x":-0.0333,"y":5.6},
      {"k":"s","x":-0.0272,"y":8.3},{"k":"s","x":-0.018,"y":10.8},{"k":"s","x":-0.0089,"y":12.85},
      {"k":"s","x":-0.003,"y":14.0},{"k":"s","x":0.0027,"y":14.87},{"k":"s","x":0.0075,"y":14.3},
      {"k":"s","x":0.0125,"y":13.2},{"k":"s","x":0.0186,"y":10.6},{"k":"s","x":0.0277,"y":6.9},
      {"k":"s","x":0.0369,"y":5.0},{"k":"s","x":0.046,"y":3.9},{"k":"s","x":0.052,"y":3.4},
      {"k":"s","x":0.0643,"y":2.0},{"k":"s","x":0.0735,"y":1.3},{"k":"s","x":0.0826,"y":0.9},
      {"k":"s","x":0.101,"y":0.45},{"k":"s","x":0.115,"y":0.3},{"k":"s","x":0.128,"y":0.2},
      {"k":"s","x":0.14,"y":0.25},{"k":"s","x":0.156,"y":0.3},{"k":"s","x":0.17,"y":0.2},
      {"k":"s","x":0.18,"y":0.1},
      {"k":"g","x":-0.13,"y":0.0},{"k":"g","x":-0.12,"y":0.05},{"k":"g","x":-0.1,"y":0.02},
      {"k":"g","x":-0.08,"y":0.05},{"k":"g","x":-0.064,"y":0.07},{"k":"g","x":-0.055,"y":0.15},
      {"k":"g","x":-0.0455,"y":0.5},{"k":"g","x":-0.042,"y":0.4},{"k":"g","x":-0.0363,"y":1.64},
      {"k":"g","x":-0.0272,"y":2.4},{"k":"g","x":-0.021,"y":4.26},{"k":"g","x":-0.015,"y":8.7},
      {"k":"g","x":-0.0119,"y":11.7},{"k":"g","x":-0.0095,"y":20.7},{"k":"g","x":-0.007,"y":31.2},
      {"k":"g","x":-0.0043,"y":42.4},{"k":"g","x":-0.0013,"y":50.6},{"k":"g","x":0.0003,"y":51.3},
      {"k":"g","x":0.0018,"y":49.1},{"k":"g","x":0.0048,"y":41.6},{"k":"g","x":0.0079,"y":31.2},
      {"k":"g","x":0.011,"y":22.2},{"k":"g","x":0.014,"y":13.2},{"k":"g","x":0.017,"y":7.2},
      {"k":"g","x":0.0201,"y":3.5},{"k":"g","x":0.0247,"y":2.0},{"k":"g","x":0.0308,"y":0.9},
      {"k":"g","x":0.0369,"y":0.07},{"k":"g","x":0.05,"y":0.05},{"k":"g","x":0.07,"y":0.03},
      {"k":"g","x":0.092,"y":0.0}
    ],
    "freq": [
      {"bin":"[-0.261,-0.247)","s":2,"g":0},
      {"bin":"[-0.247,-0.233)","s":0,"g":0},
      {"bin":"[-0.233,-0.219)","s":0,"g":0},
      {"bin":"[-0.219,-0.204)","s":0,"g":0},
      {"bin":"[-0.204,-0.19)","s":1,"g":0},
      {"bin":"[-0.19,-0.176)","s":1,"g":0},
      {"bin":"[-0.176,-0.162)","s":1,"g":0},
      {"bin":"[-0.162,-0.148)","s":1,"g":0},
      {"bin":"[-0.148,-0.134)","s":0,"g":0},
      {"bin":"[-0.134,-0.12)","s":1,"g":0},
      {"bin":"[-0.12,-0.105)","s":1,"g":1},
      {"bin":"[-0.105,-0.0913)","s":13,"g":3},
      {"bin":"[-0.0913,-0.0771)","s":13,"g":3},
      {"bin":"[-0.0771,-0.063)","s":39,"g":0},
      {"bin":"[-0.063,-0.0488)","s":39,"g":3},
      {"bin":"[-0.0488,-0.0347)","s":71,"g":10},
      {"bin":"[-0.0347,-0.0205)","s":177,"g":50},
      {"bin":"[-0.0205,-0.00637)","s":260,"g":267},
      {"bin":"[-0.00637,0.00778)","s":340,"g":925},
      {"bin":"[0.00778,0.0219)","s":282,"g":304},
      {"bin":"[0.0219,0.0361)","s":151,"g":31},
      {"bin":"[0.0361,0.0503)","s":93,"g":3},
      {"bin":"[0.0503,0.0644)","s":53,"g":3},
      {"bin":"[0.0644,0.0786)","s":21,"g":3},
      {"bin":"[0.0786,0.0927)","s":13,"g":3},
      {"bin":"[0.0927,0.107)","s":10,"g":0},
      {"bin":"[0.107,0.121)","s":0,"g":0},
      {"bin":"[0.121,0.135)","s":1,"g":0},
      {"bin":"[0.135,0.149)","s":1,"g":0},
      {"bin":"[0.149,0.163]","s":1,"g":0}
    ]
  },
  "columns": 2,
  "spacing": {"row": 148, "column": 100},
  "bounds": "flush",
  "resolve": {"scale": {"color": "independent"}, "legend": {"color": "independent"}},
  "concat": [
    {
      "width": 500,
      "height": 252,
      "title": "SMAR stock price time-series",
      "data": {"name": "ts"},
      "transform": [{"filter": "isValid(datum.p)"}],
      "mark": {"type": "line", "color": "#228B22", "strokeWidth": 2},
      "encoding": {
        "x": {
          "field": "d", "type": "temporal",
          "scale": {"type": "utc", "nice": false, "domain": [
            {"year": 2018, "month": 1, "date": 30, "utc": true},
            {"year": 2024, "month": 11, "date": 20, "utc": true}]},
          "axis": {"title": null, "format": "%Y", "values": [
            {"year": 2019, "month": 1, "date": 1, "utc": true},
            {"year": 2020, "month": 1, "date": 1, "utc": true},
            {"year": 2021, "month": 1, "date": 1, "utc": true},
            {"year": 2022, "month": 1, "date": 1, "utc": true},
            {"year": 2023, "month": 1, "date": 1, "utc": true},
            {"year": 2024, "month": 1, "date": 1, "utc": true}]}
        },
        "y": {
          "field": "p", "type": "quantitative",
          "scale": {"domain": [16.45, 86.9], "nice": false, "zero": false},
          "axis": {"title": null, "values": [20, 30, 40, 50, 60, 70, 80]}
        }
      }
    },
    {
      "width": 500,
      "height": 252,
      "title": "SMAR versus S&P500 stock return time-series",
      "data": {"name": "ts"},
      "transform": [{"fold": ["s", "g"], "as": ["k", "v"]}],
      "encoding": {
        "x": {
          "field": "d", "type": "temporal",
          "scale": {"type": "utc", "nice": false, "domain": [
            {"year": 2018, "month": 1, "date": 30, "utc": true},
            {"year": 2024, "month": 11, "date": 20, "utc": true}]},
          "axis": {"title": null, "format": "%Y", "values": [
            {"year": 2019, "month": 1, "date": 1, "utc": true},
            {"year": 2020, "month": 1, "date": 1, "utc": true},
            {"year": 2021, "month": 1, "date": 1, "utc": true},
            {"year": 2022, "month": 1, "date": 1, "utc": true},
            {"year": 2023, "month": 1, "date": 1, "utc": true},
            {"year": 2024, "month": 1, "date": 1, "utc": true}]}
        },
        "y": {
          "field": "v", "type": "quantitative",
          "scale": {"domain": [-0.276, 0.18], "nice": false, "zero": false},
          "axis": {"title": null, "values": [-0.2, -0.1, 0, 0.1], "format": ".1f",
                   "labelExpr": "replace(datum.label, '\u2212', '-')"}
        },
        "color": {
          "field": "k", "type": "nominal",
          "scale": {"domain": ["s", "g"], "range": ["#0000FF", "#FFFF00"]},
          "legend": {
            "title": null, "orient": "top-right", "offset": 0, "padding": 8,
            "symbolType": "M-2,0H2", "symbolSize": 177, "symbolStrokeWidth": 2,
            "symbolOffset": 8, "labelOffset": 19.5, "rowPadding": 2,
            "labelExpr": "datum.value == 's' ? 'SMAR stock return' : 'GSPC stock return'",
            "encode": {"symbols": {"update": {"strokeWidth": {"signal": "datum.value == 's' ? 2 : 1"}}}}
          }
        }
      },
      "layer": [
        {"transform": [{"filter": "datum.k == 's'"}], "mark": {"type": "line", "strokeWidth": 2}},
        {"transform": [{"filter": "datum.k == 'g'"}], "mark": {"type": "line", "strokeWidth": 1}}
      ]
    },
    {
      "width": 500,
      "height": 252,
      "title": "SMAR versus S&P500 stock return distribution",
      "data": {"name": "dens"},
      "encoding": {
        "x": {
          "field": "x", "type": "quantitative",
          "scale": {"domain": [-0.278, 0.1796], "nice": false, "zero": false},
          "axis": {"title": null, "values": [-0.2, -0.1, 0, 0.1], "format": ".1f",
                   "labelExpr": "replace(datum.label, '\u2212', '-')"}
        },
        "y": {
          "field": "y", "type": "quantitative",
          "scale": {"domain": [-2.02, 54.55], "nice": false, "zero": false},
          "axis": {"title": null, "values": [0, 10, 20, 30, 40, 50]}
        }
      },
      "layer": [
        {"mark": {"type": "rule", "color": "#BEBEBE", "strokeWidth": 1}, "encoding": {"y": {"datum": 0}, "x": null}},
        {
          "transform": [{"filter": "datum.k == 's'"}],
          "mark": {"type": "line", "strokeWidth": 2, "clip": true},
          "encoding": {
            "color": {
              "field": "k", "type": "nominal",
              "scale": {"domain": ["s", "g"], "range": ["#228B22", "#FFA500"]},
              "legend": {
                "title": null, "orient": "top-left", "offset": 0, "padding": 8,
                "symbolType": "M-2,0H2", "symbolSize": 177, "symbolStrokeWidth": 2,
                "symbolOffset": 8, "labelOffset": 19.5, "rowPadding": 2,
                "labelExpr": "datum.value == 's' ? 'SMAR return distribution' : 'GSPC return distribution'",
                "encode": {"symbols": {"update": {"strokeWidth": {"signal": "datum.value == 's' ? 2 : 1"}}}}
              }
            }
          }
        },
        {
          "transform": [{"filter": "datum.k == 'g'"}],
          "mark": {"type": "line", "strokeWidth": 1, "clip": true},
          "encoding": {
            "color": {
              "field": "k", "type": "nominal",
              "scale": {"domain": ["s", "g"], "range": ["#228B22", "#FFA500"]}
            }
          }
        }
      ]
    },
    {
      "width": 484,
      "height": 252,
      "title": "SMAR versus S&P500 return frequency distribution",
      "data": {"name": "freq"},
      "transform": [{"fold": ["s", "g"], "as": ["k", "v"]}],
      "mark": {"type": "bar", "stroke": "black", "strokeWidth": 1, "clip": true},
      "encoding": {
        "x": {
          "field": "bin", "type": "nominal", "sort": null,
          "scale": {"paddingInner": 0.3333, "paddingOuter": 1.19},
          "axis": {
            "title": "return", "titlePadding": 27, "ticks": false, "labelPadding": 29.5, "labelAngle": 0,
            "values": ["[-0.261,-0.247)", "[-0.162,-0.148)", "[-0.063,-0.0488)", "[0.0361,0.0503)", "[0.135,0.149)"]
          }
        },
        "xOffset": {"field": "k", "type": "nominal", "sort": ["s", "g"], "scale": {"paddingInner": 0, "paddingOuter": 0}},
        "y": {
          "field": "v", "type": "quantitative",
          "scale": {"domain": [-7, 909], "nice": false, "zero": false},
          "axis": {"title": "frequency", "titlePadding": 16, "values": [0, 200, 400, 600, 800]}
        },
        "color": {
          "field": "k", "type": "nominal",
          "scale": {"domain": ["s", "g"], "range": ["#0000FF", "#FFFF00"]},
          "legend": {
            "title": null, "orient": "top-right", "offset": 0, "padding": 10,
            "symbolType": "square", "symbolSize": 81, "symbolStrokeColor": "black", "symbolStrokeWidth": 1,
            "symbolOffset": 0, "labelOffset": 10, "rowPadding": 1.5,
            "labelExpr": "datum.value == 's' ? 'SMAR return frequency' : 'GSPC return frequency'"
          }
        }
      }
    }
  ]
}
